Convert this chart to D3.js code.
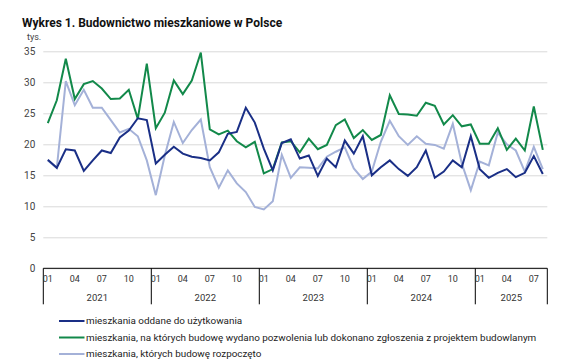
<!DOCTYPE html>
<html>
<head>
<meta charset="utf-8">
<script src="https://cdn.jsdelivr.net/npm/d3@7"></script>
<style>
  body { margin: 0; background: #fff; }
  svg text { font-family: Roboto, "Noto Sans", sans-serif; }
</style>
</head>
<body>
<div id="chart"></div>
<script>
// years shown on the axis and how many months each has in the data
const years = ['2021', '2022', '2023', '2024', '2025'];
const monthsInYear = [12, 12, 12, 12, 8];
const monthTicks = ['01', '04', '07', '10'];
const yTicks = [0, 5, 10, 15, 20, 25, 30, 35];

// tys. mieszkań, monthly from 2021-01 to 2025-08
const completed = [
  17.5, 16.2, 19.2, 19.0, 15.7, 17.4, 19.0, 18.6, 21.1, 22.2, 24.2, 23.9,
  16.9, 18.3, 19.6, 18.5, 18.0, 17.8, 17.4, 18.7, 21.7, 22.0, 25.9, 23.5,
  19.3, 15.8, 20.2, 20.8, 17.7, 18.2, 14.9, 17.7, 16.3, 20.6, 18.5, 21.3,
  15.0, 16.3, 17.4, 16.0, 14.9, 16.3, 19.0, 14.6, 15.6, 17.4, 16.3, 21.3,
  16.0, 14.6, 15.4, 16.0, 14.7, 15.4, 18.1, 15.2
];
const permits = [
  23.4, 27.1, 33.8, 27.3, 29.7, 30.2, 29.0, 27.3, 27.4, 28.8, 24.1, 33.0,
  22.6, 25.1, 30.3, 28.1, 30.3, 34.8, 22.4, 21.6, 22.2, 20.5, 19.5, 20.4,
  15.3, 16.0, 20.3, 20.5, 18.7, 20.9, 19.2, 19.9, 23.1, 24.0, 21.0, 22.3,
  20.7, 21.5, 27.9, 24.9, 24.8, 24.6, 26.7, 26.2, 23.2, 24.7, 22.9, 23.2,
  20.1, 20.1, 22.6, 19.1, 20.9, 19.0, 26.1, 19.1
];
const started = [
  17.4, 16.2, 30.2, 26.3, 28.8, 25.9, 25.9, 23.9, 21.9, 22.5, 21.3, 17.4,
  11.8, 18.2, 23.6, 20.2, 22.3, 24.0, 16.3, 13.0, 15.8, 13.7, 12.3, 9.9,
  9.5, 10.8, 18.3, 14.6, 16.3, 16.2, 16.1, 18.0, 18.8, 19.5, 16.1, 14.4,
  15.6, 20.4, 23.8, 21.3, 19.9, 21.3, 20.1, 19.9, 19.3, 23.3, 16.9, 12.6,
  17.2, 16.6, 21.9, 20.0, 19.0, 15.6, 19.6, 16.0
];

const seriesNames = [
  'mieszkania oddane do użytkowania',
  'mieszkania, na których budowę wydano pozwolenia lub dokonano zgłoszenia z projektem budowlanym',
  'mieszkania, których budowę rozpoczęto'
];
const seriesColors = ['#1a2f86', '#12894a', '#a4b1d8'];
const seriesData = [completed, permits, started];

const width = 561, height = 362;
const margin = { left: 43.3, right: 13.7, top: 51.3, bottom: 93.7 };

// month keys like 2021-01
const months = [];
years.forEach((y, i) => {
  for (let m = 1; m <= monthsInYear[i]; m++) months.push(`${y}-${String(m).padStart(2, '0')}`);
});

const svg = d3.select('#chart').append('svg')
  .attr('width', width)
  .attr('height', height);

const x = d3.scaleBand()
  .domain(months)
  .range([margin.left, width - margin.right])
  .padding(0);

const y = d3.scaleLinear()
  .domain([0, 35])
  .range([height - margin.bottom, margin.top]);

// title
svg.append('text')
  .attr('x', 22)
  .attr('y', 27)
  .attr('font-size', 12)
  .attr('font-weight', 700)
  .attr('fill', '#111')
  .text('Wykres 1. Budownictwo mieszkaniowe w Polsce');

svg.append('text')
  .attr('x', 27)
  .attr('y', 40)
  .attr('font-size', 9)
  .attr('fill', '#444')
  .text('tys.');

// gridlines + y labels
const yAxis = d3.axisLeft(y)
  .tickValues(yTicks)
  .tickSize(-(width - margin.left - margin.right))
  .tickPadding(8);

const gy = svg.append('g')
  .attr('transform', `translate(${margin.left},0)`)
  .call(yAxis);
gy.select('.domain').remove();
gy.selectAll('line').attr('stroke', '#d9d9d9').attr('stroke-width', 1);
gy.selectAll('text').attr('font-size', 10).attr('fill', '#444');

// bottom axis line
const y0 = y(0);
svg.append('line')
  .attr('x1', margin.left).attr('x2', width - margin.right)
  .attr('y1', y0).attr('y2', y0)
  .attr('stroke', '#000').attr('stroke-width', 1);

// year separators
const yearStarts = years.map(yr => x(`${yr}-01`)).concat([width - margin.right]);
svg.append('g').selectAll('line')
  .data(yearStarts)
  .join('line')
  .attr('x1', d => d).attr('x2', d => d)
  .attr('y1', y0).attr('y2', y0 + 36)
  .attr('stroke', '#000').attr('stroke-width', 1);

// month labels
svg.append('g').selectAll('text')
  .data(months.filter(m => monthTicks.includes(m.slice(5))))
  .join('text')
  .attr('x', d => x(d) + x.bandwidth() / 2)
  .attr('y', y0 + 14)
  .attr('text-anchor', 'middle')
  .attr('font-size', 9)
  .attr('fill', '#333')
  .text(d => d.slice(5));

// year labels
svg.append('g').selectAll('text')
  .data(years)
  .join('text')
  .attr('x', (d, i) => (yearStarts[i] + yearStarts[i + 1]) / 2)
  .attr('y', y0 + 33)
  .attr('text-anchor', 'middle')
  .attr('font-size', 9.5)
  .attr('fill', '#333')
  .text(d => d);

// lines
const line = d3.line()
  .x((d, i) => x(months[i]) + x.bandwidth() / 2)
  .y(d => y(d));

// draw started first, then permits, then completed on top
[2, 1, 0].forEach(k => {
  svg.append('path')
    .datum(seriesData[k])
    .attr('d', line)
    .attr('fill', 'none')
    .attr('stroke', seriesColors[k])
    .attr('stroke-width', 2)
    .attr('stroke-linejoin', 'miter');
});

// legend
const legend = svg.append('g').selectAll('g')
  .data(seriesNames)
  .join('g')
  .attr('transform', (d, i) => `translate(59,${321 + i * 16.5})`);

legend.append('line')
  .attr('x1', 0).attr('x2', 25.5)
  .attr('stroke', (d, i) => seriesColors[i])
  .attr('stroke-width', 2);

legend.append('text')
  .attr('x', 27)
  .attr('dy', '0.35em')
  .attr('font-size', 9.9)
  .attr('fill', '#222')
  .text(d => d);
</script>
</body>
</html>
